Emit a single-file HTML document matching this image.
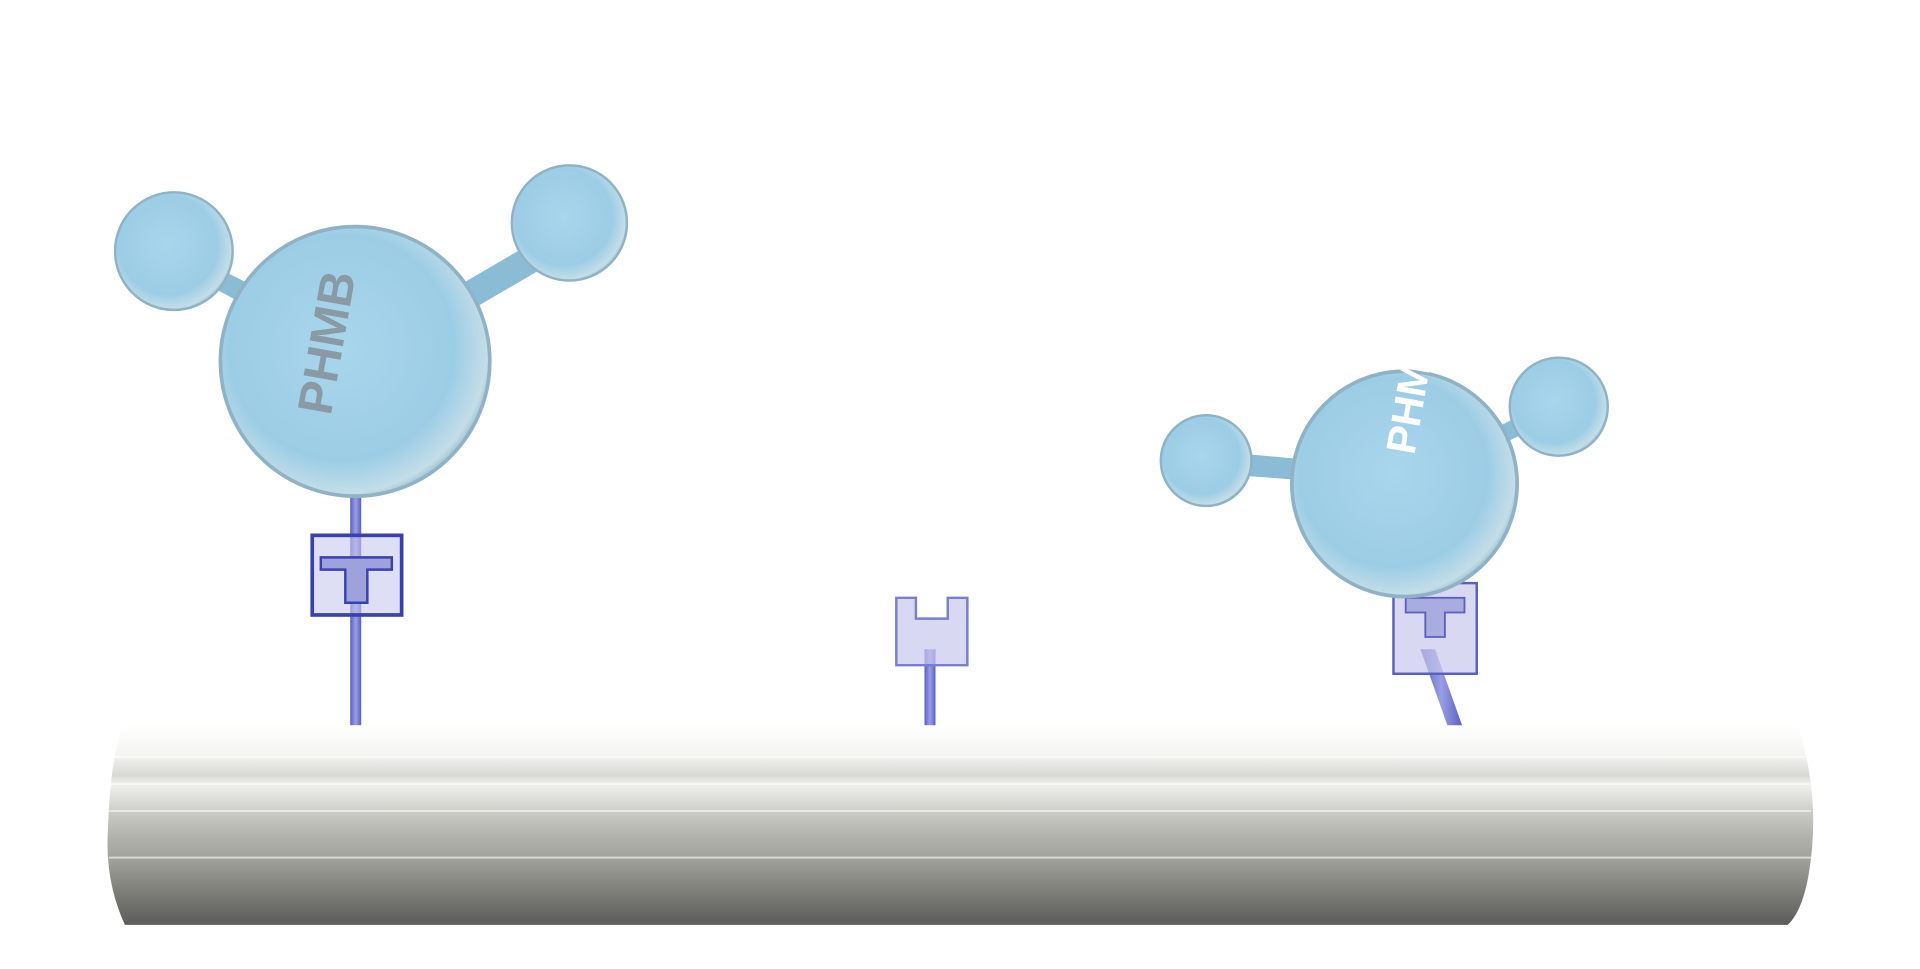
<!DOCTYPE html>
<html><head><meta charset="utf-8"><style>
html,body{margin:0;padding:0;background:#fff;width:1920px;height:969px;overflow:hidden}
svg{display:block}
</style></head><body>
<svg width="1920" height="969" viewBox="0 0 1568 791" preserveAspectRatio="none" xmlns="http://www.w3.org/2000/svg">
<defs>
<linearGradient id="cyl" x1="0" y1="0" x2="0" y2="1">
<stop offset="0" stop-color="#ffffff"/><stop offset="0.15" stop-color="#f4f4f2"/>
<stop offset="0.25" stop-color="#d8d8d4"/><stop offset="0.3" stop-color="#f0f0ee"/>
<stop offset="0.45" stop-color="#c8c8c2"/><stop offset="0.55" stop-color="#b4b4ae"/>
<stop offset="0.7" stop-color="#9c9c96"/><stop offset="0.85" stop-color="#7a7a76"/>
<stop offset="1" stop-color="#5c5c5a"/></linearGradient>
<radialGradient id="sph" cx="0.45" cy="0.45" r="0.6">
<stop offset="0" stop-color="#a8d6ec"/><stop offset="0.7" stop-color="#9ccde6"/>
<stop offset="0.9" stop-color="#c4dde8"/><stop offset="1" stop-color="#7fa8bd"/></radialGradient>
<linearGradient id="stick" x1="0" x2="1"><stop offset="0" stop-color="#5a5fc0"/><stop offset="0.5" stop-color="#9a9ee6"/><stop offset="1" stop-color="#5a5fc0"/></linearGradient>
</defs>
<g>
<path d="M100 592 H1468 Q1484 640 1480 690 Q1476 740 1460 755 H102 Q86 720 88 680 Q90 620 100 592 Z" fill="url(#cyl)"/>
<g stroke="#ffffff" stroke-opacity="0.6" stroke-width="1.5">
<line x1="92" y1="618" x2="1476" y2="618"/><line x1="90" y1="640" x2="1478" y2="640"/><line x1="89" y1="662" x2="1479" y2="662"/><line x1="89" y1="700" x2="1479" y2="700"/></g>
</g>
<g>
<rect x="286" y="400" width="9" height="192" fill="url(#stick)"/>
<rect x="255" y="437" width="73" height="65" fill="#c8c8ec" fill-opacity="0.6" stroke="#3a40b0" stroke-width="3"/>
<path d="M262 455 H320 V465 H300 V492 H282 V465 H262 Z" fill="#9ea2dc" stroke="#3a40b0" stroke-width="2"/>
<path d="M170 215 L240 250 L230 265 L165 230 Z" fill="#8bbcd6"/>
<path d="M440 195 L380 230 L390 250 L450 215 Z" fill="#8bbcd6"/>
<circle cx="142" cy="205" r="48" fill="url(#sph)" stroke="#8fb2c4" stroke-width="2"/>
<circle cx="465" cy="182" r="47" fill="url(#sph)" stroke="#8fb2c4" stroke-width="2"/>
<circle cx="290" cy="295" r="110" fill="url(#sph)" stroke="#8fb2c4" stroke-width="3"/>
<text x="0" y="0" transform="translate(270,340) rotate(-80)" font-family="Liberation Sans, sans-serif" font-weight="bold" font-size="40" fill="#8a9aa4">PHMB</text>
</g>
<g>
<rect x="755" y="530" width="9" height="62" fill="url(#stick)"/>
<path d="M732 488 H748 V505 H774 V488 H790 V543 H732 Z" fill="#c8c8ec" fill-opacity="0.7" stroke="#7a7ed0" stroke-width="2"/>
</g>
<g>
<path d="M1160 530 L1182 592 L1194 592 L1172 530 Z" fill="url(#stick)"/>
<rect x="1138" y="476" width="68" height="74" fill="#c8c8ec" fill-opacity="0.7" stroke="#5a5fc0" stroke-width="2"/>
<path d="M1148 488 H1196 V500 H1180 V520 H1164 V500 H1148 Z" fill="#a8acdf" stroke="#5a5fc0" stroke-width="1.5"/>
<path d="M1010 370 L1065 375 L1065 392 L1010 388 Z" fill="#8bbcd6"/>
<path d="M1250 335 L1220 350 L1228 362 L1256 348 Z" fill="#8bbcd6"/>
<circle cx="985" cy="376" r="37" fill="url(#sph)" stroke="#8fb2c4" stroke-width="2"/>
<circle cx="1273" cy="332" r="40" fill="url(#sph)" stroke="#8fb2c4" stroke-width="2"/>
<circle cx="1147" cy="395" r="92" fill="url(#sph)" stroke="#8fb2c4" stroke-width="3"/>
<text x="0" y="0" transform="translate(1155,372) rotate(-80)" font-family="Liberation Sans, sans-serif" font-weight="bold" font-size="34" fill="#ffffff">PHMB</text>
</g>
</svg>
</body></html>
